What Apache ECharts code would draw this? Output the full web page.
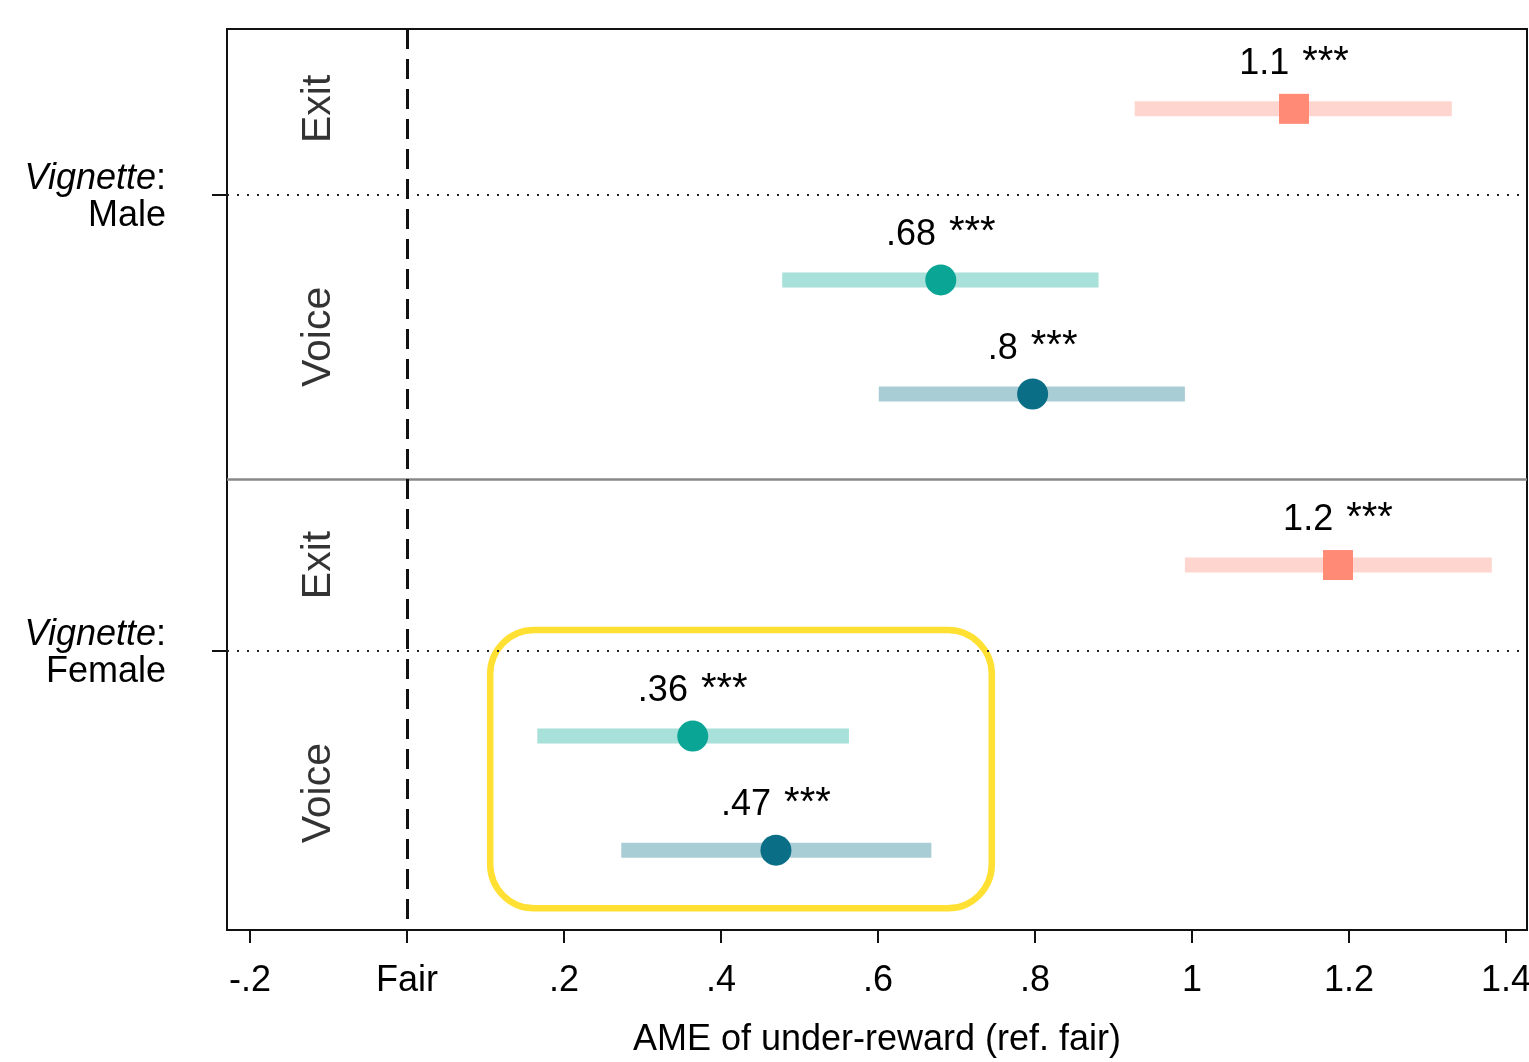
<!DOCTYPE html>
<html>
<head>
<meta charset="utf-8">
<script src="https://cdn.jsdelivr.net/npm/echarts@6/dist/echarts.min.js"></script>
<style>
  html, body { margin: 0; padding: 0; background: #fff; }
  #chart { width: 1529px; height: 1062px; }
</style>
</head>
<body>
<div id="chart"></div>
<script>
  var FONT = 'Liberation Sans, Arial, sans-serif';

  // rows, top to bottom
  var rowY      = [1, 2.5, 3.5, 5, 6.5, 7.5];
  var rowType   = ['exit', 'voice1', 'voice2', 'exit', 'voice1', 'voice2'];
  var estimates = [1.13, 0.68, 0.797, 1.186, 0.364, 0.47];
  var ciLow     = [0.927, 0.478, 0.601, 0.991, 0.166, 0.273];
  var ciHigh    = [1.331, 0.881, 0.991, 1.382, 0.563, 0.668];
  var estLabels = ['1.1', '.68', '.8', '1.2', '.36', '.47'];
  var stars     = ['***', '***', '***', '***', '***', '***'];

  // outcome group labels (rotated) and vignette groups
  var groupNames = ['Exit', 'Voice', 'Exit', 'Voice'];
  var groupY     = [1, 3, 5, 7];
  var vignetteY      = [1.75, 5.75];
  var vignetteLabels = ['Male', 'Female'];
  var panelSplit = 4.25;

  var xTicks = [-0.2, 0, 0.2, 0.4, 0.6, 0.8, 1, 1.2, 1.4];

  // highlight frame [x0, y0, x1, y1]
  var highlightBox = [0.106, 5.57, 0.745, 8.01];

  var pointColors = { exit: '#FF8A76', voice1: '#0BA596', voice2: '#0A6E87' };
  var ciColors    = { exit: '#FFD6CF', voice1: '#A8E0DA', voice2: '#A9CDD5' };
  var symbols     = { exit: 'rect', voice1: 'circle', voice2: 'circle' };

  function fmtTick(v) {
    if (Math.abs(v) < 1e-9) return 'Fair';
    var s = String(Math.round(v * 10) / 10);
    return s.replace(/^0\./, '.').replace(/^-0\./, '-.');
  }

  var chart = echarts.init(document.getElementById('chart'), null, { renderer: 'canvas' });

  var ciData = rowY.map(function (y, i) { return [ciLow[i], ciHigh[i], y, i]; });
  var pointData = rowY.map(function (y, i) {
    var t = rowType[i];
    return {
      value: [estimates[i], y],
      symbol: symbols[t],
      symbolSize: t === 'exit' ? 30 : 31,
      itemStyle: { color: pointColors[t], opacity: 1 },
      label: { formatter: '{v|' + estLabels[i] + '}{g|}{s|' + stars[i] + '}' }
    };
  });
  var groupData = groupY.map(function (y, i) {
    return { value: [-0.113, y], label: { formatter: groupNames[i] } };
  });

  var option = {
    animation: false,
    grid: {
      left: 227, top: 29, right: 2, bottom: 132,
      outerBoundsMode: 'none', containLabel: false,
      show: true, borderColor: '#111', borderWidth: 2
    },
    xAxis: {
      type: 'value',
      min: -0.2293, max: 1.4268,
      splitLine: { show: false },
      axisLine: { show: true, onZero: false, lineStyle: { color: '#111', width: 2 } },
      axisTick: { show: true, length: 13, lineStyle: { color: '#111', width: 2 }, customValues: xTicks },
      axisLabel: {
        customValues: xTicks, formatter: fmtTick, margin: 33,
        fontSize: 36, fontFamily: FONT, color: '#000'
      },
      name: 'AME of under-reward (ref. fair)',
      nameLocation: 'middle', nameGap: 92,
      nameTextStyle: { fontSize: 36, fontFamily: FONT, color: '#000' }
    },
    yAxis: {
      type: 'value', inverse: true,
      min: 0.3, max: 8.2,
      splitLine: { show: false },
      axisLine: { show: true, onZero: false, lineStyle: { color: '#111', width: 2 } },
      axisTick: { show: true, length: 15, lineStyle: { color: '#111', width: 2 }, customValues: vignetteY },
      axisLabel: {
        customValues: vignetteY, margin: 61, align: 'right',
        fontSize: 36, fontFamily: FONT, color: '#000', lineHeight: 37,
        formatter: function (v) {
          var i = vignetteY.indexOf(v);
          return '{i|Vignette}:\n' + (i >= 0 ? vignetteLabels[i] : '');
        },
        padding: [6, 0, 0, 0],
        rich: { i: { fontStyle: 'italic', fontSize: 36, fontFamily: FONT, color: '#000', lineHeight: 37 } }
      }
    },
    series: [
      {
        type: 'custom',
        name: 'guides',
        silent: true,
        z: 1,
        renderItem: function () { return { type: 'group', children: [] }; },
        data: [[0, 1]],
        markLine: {
          silent: true, symbol: 'none', label: { show: false },
          data: [
            { yAxis: vignetteY[0], lineStyle: { type: [2, 8], color: '#222', width: 2 } },
            { yAxis: vignetteY[1], lineStyle: { type: [2, 8], color: '#222', width: 2 } },
            { yAxis: panelSplit, lineStyle: { type: 'solid', color: '#888', width: 2.5 } },
            { xAxis: 0, lineStyle: { type: [20, 10], color: '#111', width: 3 } }
          ]
        }
      },
      {
        type: 'custom',
        name: 'ci',
        silent: true,
        z: 2,
        encode: { x: [0, 1], y: 2 },
        data: ciData,
        renderItem: function (params, api) {
          var s = api.coord([api.value(0), api.value(2)]);
          var e = api.coord([api.value(1), api.value(2)]);
          var t = rowType[api.value(3)];
          return {
            type: 'rect',
            shape: { x: s[0], y: s[1] - 7.5, width: e[0] - s[0], height: 15 },
            style: { fill: ciColors[t] }
          };
        }
      },
      {
        type: 'scatter',
        name: 'estimate',
        z: 3,
        data: pointData,
        label: {
          show: true, position: 'top', distance: 8,
          color: '#000',
          rich: {
            v: { fontSize: 36, fontFamily: FONT, color: '#000' },
            g: { width: 13 },
            s: { fontSize: 40, fontFamily: FONT, color: '#000', padding: [0, 0, 3, 0] }
          }
        }
      },
      {
        type: 'scatter',
        name: 'groups',
        silent: true,
        symbolSize: 0,
        data: groupData,
        label: {
          show: true, position: 'inside', rotate: 90,
          fontSize: 41, fontFamily: FONT, color: '#000'
        }
      },
      {
        type: 'custom',
        name: 'highlight',
        silent: true,
        z: 4,
        data: [highlightBox],
        renderItem: function (params, api) {
          var a = api.coord([api.value(0), api.value(1)]);
          var b = api.coord([api.value(2), api.value(3)]);
          return {
            type: 'rect',
            shape: { x: a[0], y: a[1], width: b[0] - a[0], height: b[1] - a[1], r: 44 },
            style: { fill: 'none', stroke: '#FFE033', lineWidth: 6.5 }
          };
        }
      }
    ]
  };

  chart.setOption(option);
  window.addEventListener('resize', chart.resize);
</script>
</body>
</html>
